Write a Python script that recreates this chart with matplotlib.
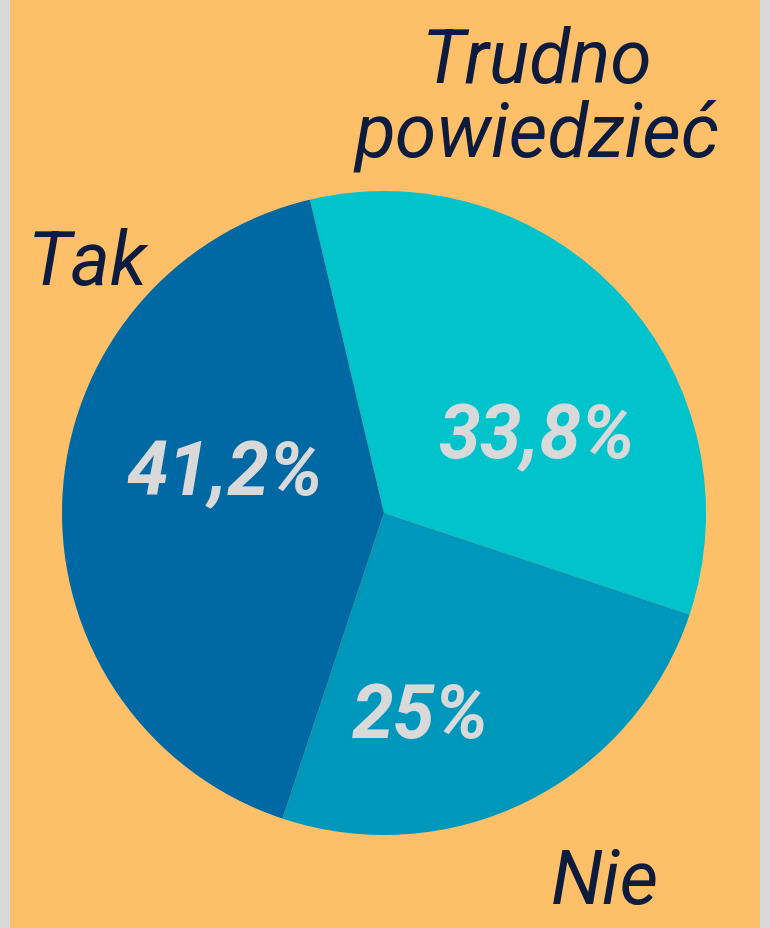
import matplotlib
matplotlib.use("Agg")
from matplotlib import pyplot as plt
from matplotlib.patches import Rectangle

# data
categories = ["Trudno\npowiedzieć", "Nie", "Tak"]
values = [33.8, 25.0, 41.2]
pct_labels = ["33,8%", "25%", "41,2%"]
colors = ["#00C3CC", "#0097BD", "#0069A3"]

plt.rcParams['font.family'] = ['Roboto', 'DejaVu Sans']

fig = plt.figure(figsize=(7.7, 9.29), dpi=100, facecolor="#D9D9D9")
fig.patches.append(Rectangle((10 / 770, 0), 750 / 770, 1, transform=fig.transFigure,
                             facecolor="#FDC068", edgecolor="none", zorder=-10))

W, H = 770, 929
cx, cy, r = 384, 514, 322
ax = fig.add_axes([(cx - r) / W, (H - cy - r) / H, 2 * r / W, 2 * r / H])
ax.set_facecolor("none")

wedges, texts = ax.pie(values, colors=colors, startangle=103.3, counterclock=False,
                       radius=1, wedgeprops=dict(linewidth=0))
ax.set_xlim(-1, 1)
ax.set_ylim(-1, 1)
ax.axis("off")

# positions in pie units (radius = 1)
pct_pos = [(0.474, 0.236), (0.114, -0.631), (-0.495, 0.121)]
cat_pos = [(0.475, 1.290), (0.686, -1.146), (-0.919, 0.775)]

for lab, (x, y) in zip(pct_labels, pct_pos):
    ax.text(x, y, lab, ha="center", va="center", color="#D9D9D9", fontsize=54,
            fontweight="bold", fontstyle="italic")

for lab, (x, y) in zip(categories, cat_pos):
    ax.text(x, y, lab, ha="center", va="center", color="#0D1B3E", fontsize=54,
            fontstyle="italic", linespacing=1.02, clip_on=False)

fig.savefig("out.png", dpi=100, facecolor=fig.get_facecolor())
